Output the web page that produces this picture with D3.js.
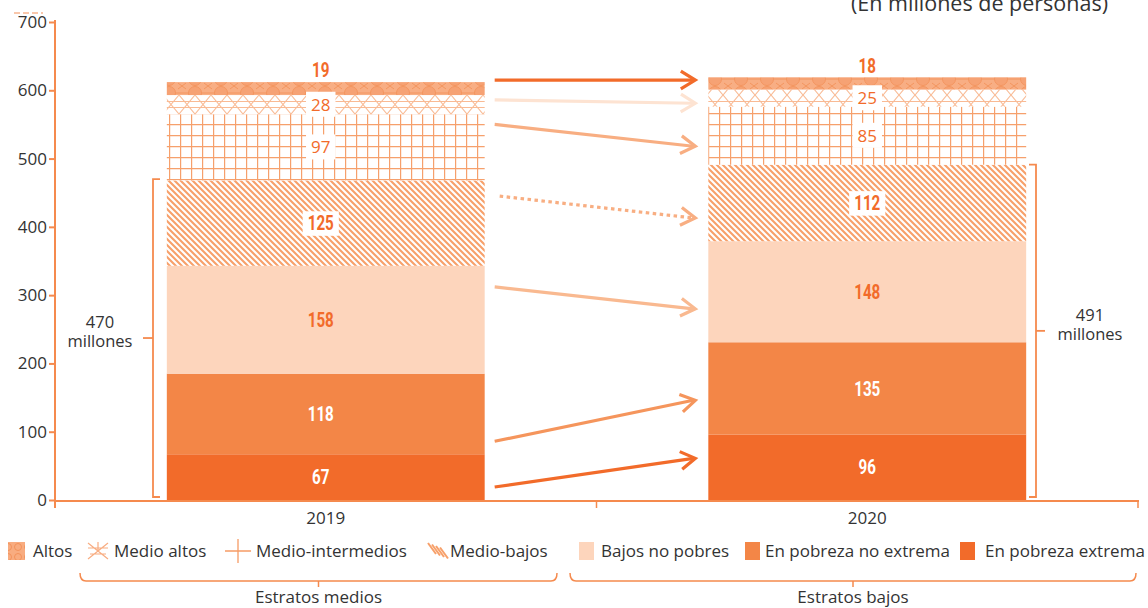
<!DOCTYPE html>
<html>
<head>
<meta charset="utf-8">
<script src="https://cdn.jsdelivr.net/npm/d3@7"></script>
<style>
  html, body { margin: 0; padding: 0; background: #fff; }
  svg { display: block; }
  .txt { font-family: "Open Sans", "Noto Sans", sans-serif; fill: #333; }
  .num { font-family: "Roboto", "Liberation Sans", sans-serif; }
</style>
</head>
<body>
<svg id="chart" width="1148" height="608"></svg>
<script>
// Population by socioeconomic stratum, Latin America (millions of people)
const years = ["2019", "2020"];
const strata = ["extrema", "noExtrema", "bajosNoPobres", "medioBajos", "medioIntermedios", "medioAltos", "altos"];
const strataLabels = {
  altos: "Altos",
  medioAltos: "Medio altos",
  medioIntermedios: "Medio-intermedios",
  medioBajos: "Medio-bajos",
  bajosNoPobres: "Bajos no pobres",
  noExtrema: "En pobreza no extrema",
  extrema: "En pobreza extrema"
};
const values2019 = [67, 118, 158, 125, 97, 28, 19];
const values2020 = [96, 135, 148, 112, 85, 25, 18];
const lowTotals = [470, 491];
const yTicks = [0, 100, 200, 300, 400, 500, 600, 700];
const legendOrder = ["altos", "medioAltos", "medioIntermedios", "medioBajos", "bajosNoPobres", "noExtrema", "extrema"];
const groupNames = ["Estratos medios", "Estratos bajos"];
// change arrows between the two years: [stratum, start value, end value]
const arrows = [
  ["altos", 615, 615],
  ["medioAltos", 586, 581],
  ["medioIntermedios", 550, 518],
  ["medioBajos", 445, 413],
  ["bajosNoPobres", 312, 280],
  ["noExtrema", 86, 146],
  ["extrema", 19, 61]
];

const svg = d3.select("#chart");
const orange = "#F26B2A";
const axisColor = "#F58A4E";

const x = d3.scaleBand().domain(years).range([55, 1138]).paddingInner(0.413).paddingOuter(0.2065);
const y = d3.scaleLinear().domain([0, 700]).range([500, 22]);

// ---- patterns
const defs = svg.append("defs");
const pAltos = defs.append("pattern").attr("id", "p-altos").attr("patternUnits", "userSpaceOnUse")
  .attr("width", 26).attr("height", 14).attr("y", 2);
pAltos.append("rect").attr("width", 26).attr("height", 14).attr("fill", "#F8AE84");
pAltos.append("circle").attr("cx", 13).attr("cy", 7).attr("r", 6.5).attr("fill", "#F6A274").attr("stroke", "#F3925A").attr("stroke-width", 0.9);
pAltos.append("path").attr("d", "M0,7 L6.5,7 M19.5,7 L26,7 M0,0 L4,3 M26,0 L22,3 M0,14 L4,11 M26,14 L22,11")
  .attr("stroke", "#F3925A").attr("stroke-width", 0.9);

const pAltosLeg = defs.append("pattern").attr("id", "p-altos-leg").attr("patternUnits", "userSpaceOnUse")
  .attr("width", 10).attr("height", 10).attr("x", 3).attr("y", 2);
pAltosLeg.append("rect").attr("width", 10).attr("height", 10).attr("fill", "#F8AC80");
pAltosLeg.append("circle").attr("cx", 5).attr("cy", 5).attr("r", 3.5).attr("fill", "none").attr("stroke", "#F08A50").attr("stroke-width", 0.8);

const pMA = defs.append("pattern").attr("id", "p-medioaltos").attr("patternUnits", "userSpaceOnUse")
  .attr("width", 16).attr("height", 19).attr("x", 3);
pMA.append("rect").attr("width", 16).attr("height", 19).attr("fill", "#fff");
pMA.append("path").attr("d", "M0,0 L16,19 M16,0 L0,19 M0,6.5 L16,6.5 M0,12.5 L16,12.5")
  .attr("stroke", "#F9BA94").attr("stroke-width", 1.1).attr("fill", "none");

const pMI = defs.append("pattern").attr("id", "p-mediointer").attr("patternUnits", "userSpaceOnUse")
  .attr("width", 11).attr("height", 11).attr("x", 4).attr("y", 3);
pMI.append("rect").attr("width", 11).attr("height", 11).attr("fill", "#fff");
pMI.append("path").attr("d", "M0.6,0 L0.6,11 M0,0.6 L11,0.6")
  .attr("stroke", "#F6A06C").attr("stroke-width", 1.2);

const pMB = defs.append("pattern").attr("id", "p-mediobajos").attr("patternUnits", "userSpaceOnUse")
  .attr("width", 6).attr("height", 6);
pMB.append("rect").attr("width", 6).attr("height", 6).attr("fill", "#fff");
pMB.append("path").attr("d", "M0,0 L6,6 M-1,5 L1,7 M5,-1 L7,1")
  .attr("stroke", "#F7A06A").attr("stroke-width", 2.1);

const fills = {
  extrema: orange,
  noExtrema: "#F38647",
  bajosNoPobres: "#FDD5BC",
  medioBajos: "url(#p-mediobajos)",
  medioIntermedios: "url(#p-mediointer)",
  medioAltos: "url(#p-medioaltos)",
  altos: "url(#p-altos)"
};
const arrowColors = {
  altos: "#F26B2A",
  medioAltos: "#FDE3D2",
  medioIntermedios: "#F8AE82",
  medioBajos: "#F8AE82",
  bajosNoPobres: "#F9B990",
  noExtrema: "#F5955C",
  extrema: "#F26B2A"
};
// label style per stratum: [colour, bold, boxed]
const labelStyle = {
  extrema: ["#fff", true, false],
  noExtrema: ["#fff", true, false],
  bajosNoPobres: [orange, true, false],
  medioBajos: [orange, true, true],
  medioIntermedios: [orange, false, true],
  medioAltos: [orange, false, true],
  altos: [orange, true, false]
};
const labelShift = { "2019": -5, "2020": 0 };

// ---- stacked data
const rows = years.map((yr, i) => {
  const vals = i === 0 ? values2019 : values2020;
  const r = { year: yr };
  strata.forEach((s, j) => r[s] = vals[j]);
  return r;
});
const stacked = d3.stack().keys(strata)(rows);

// ---- axes
const yAxis = svg.append("g").attr("transform", "translate(55,0)")
  .call(d3.axisLeft(y).tickValues(yTicks).tickSize(6).tickPadding(2));
yAxis.select(".domain").remove();
yAxis.append("line").attr("x1", 0).attr("x2", 0).attr("y1", y(700) - 2).attr("y2", y(0) + 8)
  .attr("stroke", axisColor).attr("stroke-width", 2);
yAxis.selectAll(".tick line").attr("stroke", axisColor).attr("stroke-width", 2);
yAxis.selectAll(".tick text").attr("class", "txt").style("font-size", "17px").attr("fill", "#333");

const xAxisG = svg.append("g");
xAxisG.append("line").attr("x1", 55).attr("x2", 1139).attr("y1", y(0) + 1).attr("y2", y(0) + 1)
  .attr("stroke", axisColor).attr("stroke-width", 2);
const step = x.step();
[x.range()[0] + step, x.range()[1]].forEach(px => {
  xAxisG.append("line").attr("x1", px).attr("x2", px).attr("y1", y(0)).attr("y2", y(0) + 8)
    .attr("stroke", axisColor).attr("stroke-width", 1.5);
});
xAxisG.selectAll("text.cat").data(years).join("text")
  .attr("class", "txt cat")
  .attr("x", d => x(d) + x.bandwidth() / 2)
  .attr("y", y(0) + 24)
  .attr("text-anchor", "middle")
  .style("font-size", "17px")
  .text(d => d);

// ---- bars
const layers = svg.append("g").selectAll("g").data(stacked).join("g")
  .attr("fill", d => fills[d.key]);
layers.selectAll("rect").data(d => d).join("rect")
  .attr("x", d => x(d.data.year))
  .attr("width", x.bandwidth())
  .attr("y", d => y(d[1]))
  .attr("height", d => y(d[0]) - y(d[1]));

// ---- value labels
const labelG = svg.append("g");
stacked.forEach(layer => {
  const key = layer.key;
  const [col, bold, boxed] = labelStyle[key];
  layer.forEach(d => {
    const cx = x(d.data.year) + x.bandwidth() / 2 + labelShift[d.data.year];
    const v = d[1] - d[0];
    const cy = key === "altos" ? y(d[1]) - 12 : (y(d[0]) + y(d[1])) / 2;
    const g = labelG.append("g").attr("transform", `translate(${cx},${cy})`);
    const t = g.append("text")
      .attr("class", bold ? "num" : "txt")
      .attr("text-anchor", "middle")
      .attr("dy", "0.36em")
      .style("font-size", bold ? "20px" : "17px")
      .style("font-weight", bold ? "700" : "400")
      .style("fill", col)
      .attr("transform", bold ? "scale(0.76,1)" : null)
      .text(v);
    if (boxed) {
      const bb = t.node().getBBox();
      const sx = bold ? 0.76 : 1;
      g.insert("rect", "text")
        .attr("x", bb.x * sx - 5).attr("y", bb.y - 1)
        .attr("width", bb.width * sx + 10).attr("height", bb.height + 2)
        .attr("fill", "#fff");
    }
  });
});

// ---- change arrows
const ax0 = x("2019") + x.bandwidth() + 10;
const ax1 = x("2020") - 13;
const arrowG = svg.append("g").attr("fill", "none").attr("stroke-linecap", "butt");
arrows.forEach(([key, v0, v1]) => {
  const c = arrowColors[key];
  const y0 = y(v0), y1 = y(v1);
  const ang = Math.atan2(y1 - y0, ax1 - ax0);
  const dotted = key === "medioBajos";
  arrowG.append("line")
    .attr("x1", ax0 + (dotted ? 5 : 0)).attr("y1", y0)
    .attr("x2", ax1 - 2).attr("y2", y1)
    .attr("stroke", c).attr("stroke-width", 3.2)
    .attr("stroke-dasharray", dotted ? "3.5,3.5" : null);
  const hl = 17, ha = 0.55;
  const p1 = [ax1 - hl * Math.cos(ang - ha), y1 - hl * Math.sin(ang - ha)];
  const p2 = [ax1 - hl * Math.cos(ang + ha), y1 - hl * Math.sin(ang + ha)];
  arrowG.append("path")
    .attr("d", `M${p1[0]},${p1[1]} L${ax1},${y1} L${p2[0]},${p2[1]}`)
    .attr("stroke", c).attr("stroke-width", 3.2).attr("stroke-linejoin", "miter");
});

// ---- brackets around low strata totals
const brG = svg.append("g").attr("fill", "none").attr("stroke", axisColor).attr("stroke-width", 1.8);
const bl = 153, blTop = y(lowTotals[0]), blBot = y(0) - 3;
brG.append("path").attr("d", `M${bl + 7},${blTop} L${bl},${blTop} L${bl},${blBot} L${bl + 7},${blBot}`);
brG.append("line").attr("x1", bl - 10).attr("x2", bl).attr("y1", (blTop + blBot) / 2).attr("y2", (blTop + blBot) / 2);
const br = 1036, brTop = y(lowTotals[1]), brBot = y(0) - 3;
brG.append("path").attr("d", `M${br - 7},${brTop} L${br},${brTop} L${br},${brBot} L${br - 7},${brBot}`);
brG.append("line").attr("x1", br).attr("x2", br + 9).attr("y1", (brTop + brBot) / 2).attr("y2", (brTop + brBot) / 2);

const totG = svg.append("g");
[[100, (blTop + blBot) / 2, lowTotals[0]], [1090, (brTop + brBot) / 2, lowTotals[1]]].forEach(([tx, ty, v]) => {
  totG.append("text").attr("class", "txt").attr("text-anchor", "middle").style("font-size", "16.5px")
    .attr("x", tx).attr("y", ty - 10).text(v);
  totG.append("text").attr("class", "txt").attr("text-anchor", "middle").style("font-size", "16.5px")
    .attr("x", tx).attr("y", ty + 9).text("millones");
});

// ---- legend
const legX = [8, 88, 225, 428, 579, 745, 960];
const legTextX = [33, 114, 256, 450, 601, 765, 985];
const legY = 551;
const legG = svg.append("g");
legendOrder.forEach((key, i) => {
  const sx = legX[i];
  const g = legG.append("g");
  if (key === "altos") {
    g.append("rect").attr("x", sx).attr("y", legY - 9).attr("width", 17).attr("height", 18).attr("fill", "url(#p-altos-leg)");
  } else if (key === "medioAltos") {
    g.append("path").attr("d", `M${sx},${legY - 8} L${sx + 20},${legY + 8} M${sx + 20},${legY - 8} L${sx},${legY + 8} M${sx},${legY - 3} L${sx + 20},${legY - 3} M${sx + 2},${legY + 3} L${sx + 18},${legY + 3} M${sx + 10},${legY - 9} L${sx + 10},${legY - 1}`)
      .attr("stroke", "#F8AC80").attr("stroke-width", 1.2).attr("fill", "none");
  } else if (key === "medioIntermedios") {
    g.append("path").attr("d", `M${sx},${legY} L${sx + 26},${legY} M${sx + 13},${legY - 12} L${sx + 13},${legY + 12}`)
      .attr("stroke", "#F69C66").attr("stroke-width", 1.3);
  } else if (key === "medioBajos") {
    for (let k = 0; k < 4; k++) {
      g.append("line").attr("x1", sx + k * 4).attr("y1", legY - 8 + k * 1.5)
        .attr("x2", sx + 8 + k * 4).attr("y2", legY + 3 + k * 1.5)
        .attr("stroke", "#F7A06A").attr("stroke-width", 2);
    }
  } else {
    g.append("rect").attr("x", sx).attr("y", legY - 9).attr("width", 15).attr("height", 18).attr("fill", fills[key]);
  }
  g.append("text").attr("class", "txt").attr("x", legTextX[i]).attr("y", legY).attr("dy", "0.35em")
    .style("font-size", "17px").text(strataLabels[key]);
});

// ---- group braces under legend
const groupSpans = [[80, 557], [570, 1136]];
const gb = svg.append("g");
groupNames.forEach((name, i) => {
  const [gx0, gx1] = groupSpans[i];
  const mid = (gx0 + gx1) / 2;
  const by = 581;
  gb.append("path")
    .attr("d", `M${gx0},${by - 8} Q${gx0},${by} ${gx0 + 6},${by} L${gx1 - 6},${by} Q${gx1},${by} ${gx1},${by - 8} M${mid},${by} L${mid},${by + 6}`)
    .attr("fill", "none").attr("stroke", axisColor).attr("stroke-width", 1.5);
  gb.append("text").attr("class", "txt").attr("x", mid).attr("y", 603).attr("text-anchor", "middle")
    .style("font-size", "17px").text(name);
});

// ---- heading (partially clipped at the top edge)
svg.append("text").attr("class", "txt").attr("x", 1108).attr("y", 11).attr("text-anchor", "end")
  .style("font-size", "21.5px").attr("fill", "#444").text("(En millones de personas)");
svg.append("line").attr("x1", 14).attr("x2", 43).attr("y1", 13).attr("y2", 13)
  .attr("stroke", "#F8B590").attr("stroke-width", 1.5).attr("stroke-dasharray", "6,3");
</script>
</body>
</html>
